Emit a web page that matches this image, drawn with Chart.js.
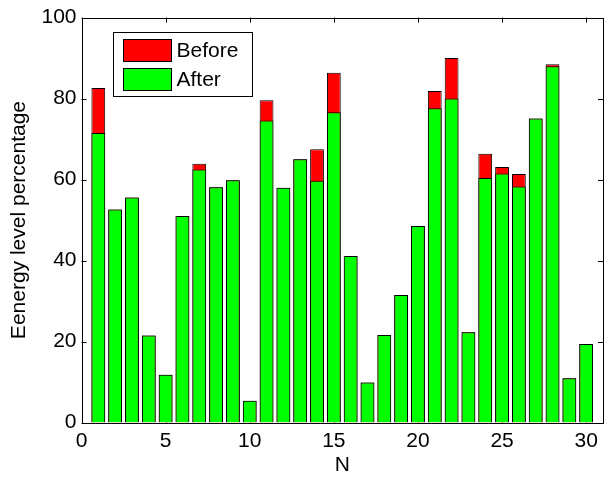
<!DOCTYPE html>
<html>
<head>
<meta charset="utf-8">
<script src="https://cdn.jsdelivr.net/npm/chart.js@4/dist/chart.umd.min.js"></script>
<style>
  html, body { margin: 0; padding: 0; background: #fff; }
  canvas { display: block; }
</style>
</head>
<body>
<canvas id="c" width="604" height="478"></canvas>
<script>
// Node index along the x axis
const nodes = [1, 2, 3, 4, 5, 6, 7, 8, 9, 10, 11, 12, 13, 14, 15,
               16, 17, 18, 19, 20, 21, 22, 23, 24, 25, 26, 27, 28, 29, 30];
// Energy level (%) before and after
const before = [82.6, 52.6, 55.6, 21.5, 11.8, 51.0, 63.9, 58.1, 59.8, 5.4,
                79.6, 58.0, 65.0, 67.5, 86.4, 41.1, 9.9, 21.6, 31.5, 48.5,
                81.9, 90.0, 22.3, 66.4, 63.1, 61.4, 75.1, 88.5, 10.9, 19.4];
const after  = [71.5, 52.6, 55.6, 21.5, 11.8, 51.0, 62.5, 58.1, 59.8, 5.4,
                74.6, 58.0, 65.0, 59.7, 76.6, 41.1, 9.9, 21.6, 31.5, 48.5,
                77.6, 80.0, 22.3, 60.4, 61.5, 58.3, 75.1, 88.0, 10.9, 19.4];
const xTicks = [0, 5, 10, 15, 20, 25, 30];
const yTicks = [0, 20, 40, 60, 80, 100];

const FONT = '"Liberation Sans", Arial, Helvetica, sans-serif';
Chart.defaults.font.family = FONT;
Chart.defaults.color = '#000';

const toPoints = vals => nodes.map((n, i) => ({ x: n, y: vals[i] }));

// Axes box with inward ticks on all four sides
const frame = {
  id: 'frame',
  beforeDatasetsDraw(chart) {
    const { ctx, chartArea: a, scales: { x, y } } = chart;
    const L = 5;
    ctx.save();
    ctx.strokeStyle = '#000';
    ctx.lineWidth = 1;
    ctx.beginPath();
    xTicks.forEach(v => {
      const px = Math.round(x.getPixelForValue(v)) + 0.5;
      ctx.moveTo(px, a.top); ctx.lineTo(px, a.top + L);
      ctx.moveTo(px, a.bottom); ctx.lineTo(px, a.bottom - L);
    });
    yTicks.forEach(v => {
      const py = Math.round(y.getPixelForValue(v)) + 0.5;
      ctx.moveTo(a.left, py); ctx.lineTo(a.left + L, py);
      ctx.moveTo(a.right, py); ctx.lineTo(a.right - L, py);
    });
    ctx.stroke();
    ctx.restore();
  },
  afterDatasetsDraw(chart) {
    const { ctx, chartArea: a } = chart;
    ctx.save();
    ctx.strokeStyle = '#000';
    ctx.lineWidth = 1;
    ctx.strokeRect(Math.round(a.left) + 0.5, Math.round(a.top) + 0.5,
                   Math.round(a.right - a.left) - 1, Math.round(a.bottom - a.top));
    ctx.restore();
  }
};

// Boxed legend in the upper-left corner of the plot
const boxLegend = {
  id: 'boxLegend',
  afterDraw(chart) {
    const { ctx, chartArea: a } = chart;
    const bx = Math.round(a.left + 31) + 0.5, by = Math.round(a.top + 14) + 0.5;
    const bw = 139, bh = 64;
    ctx.save();
    ctx.fillStyle = '#fff';
    ctx.fillRect(bx, by, bw, bh);
    ctx.strokeStyle = '#000';
    ctx.lineWidth = 1;
    ctx.strokeRect(bx, by, bw, bh);
    ctx.font = '21px ' + FONT;
    ctx.textBaseline = 'middle';
    ctx.textAlign = 'left';
    chart.data.datasets.forEach((ds, i) => {
      const sy = by + 7 + i * 29;
      ctx.fillStyle = ds.backgroundColor;
      ctx.fillRect(bx + 10, sy, 48, 22);
      ctx.strokeRect(bx + 10, sy, 48, 22);
      ctx.fillStyle = '#000';
      ctx.fillText(ds.label, bx + 63, sy + 11.5);
    });
    ctx.restore();
  }
};

new Chart(document.getElementById('c'), {
  type: 'bar',
  data: {
    datasets: [
      { label: 'Before', data: toPoints(before), backgroundColor: '#ff0000',
        borderColor: '#000', borderWidth: 1, order: 1, grouped: false },
      { label: 'After', data: toPoints(after), backgroundColor: '#00ff00',
        borderColor: '#000', borderWidth: 1, order: 0, grouped: false }
    ]
  },
  options: {
    responsive: false,
    animation: false,
    layout: { padding: { top: 17, right: 1, left: 0, bottom: 0 } },
    datasets: { bar: { barPercentage: 0.82, categoryPercentage: 1 } },
    plugins: { legend: { display: false }, tooltip: { enabled: false } },
    scales: {
      x: {
        type: 'linear', min: 0, max: 31, offset: false,
        grid: { display: false, drawTicks: false },
        border: { display: false },
        ticks: { stepSize: 5, includeBounds: false, padding: 6, maxRotation: 0,
                 font: { size: 21 } },
        title: { display: true, text: 'N', font: { size: 21 },
                 padding: { top: 0, bottom: 0 } },
        afterFit(s) { s.height = 55.5; }
      },
      y: {
        min: 0, max: 100,
        grid: { display: false, drawTicks: false },
        border: { display: false },
        ticks: { stepSize: 20, padding: 5, font: { size: 21 } },
        title: { display: true, text: 'Eenergy level percentage', font: { size: 21 },
                 padding: { top: 6.5, bottom: 0 } },
        afterFit(s) { s.width = 81.5; }
      }
    }
  },
  plugins: [frame, boxLegend]
});
</script>
</body>
</html>
